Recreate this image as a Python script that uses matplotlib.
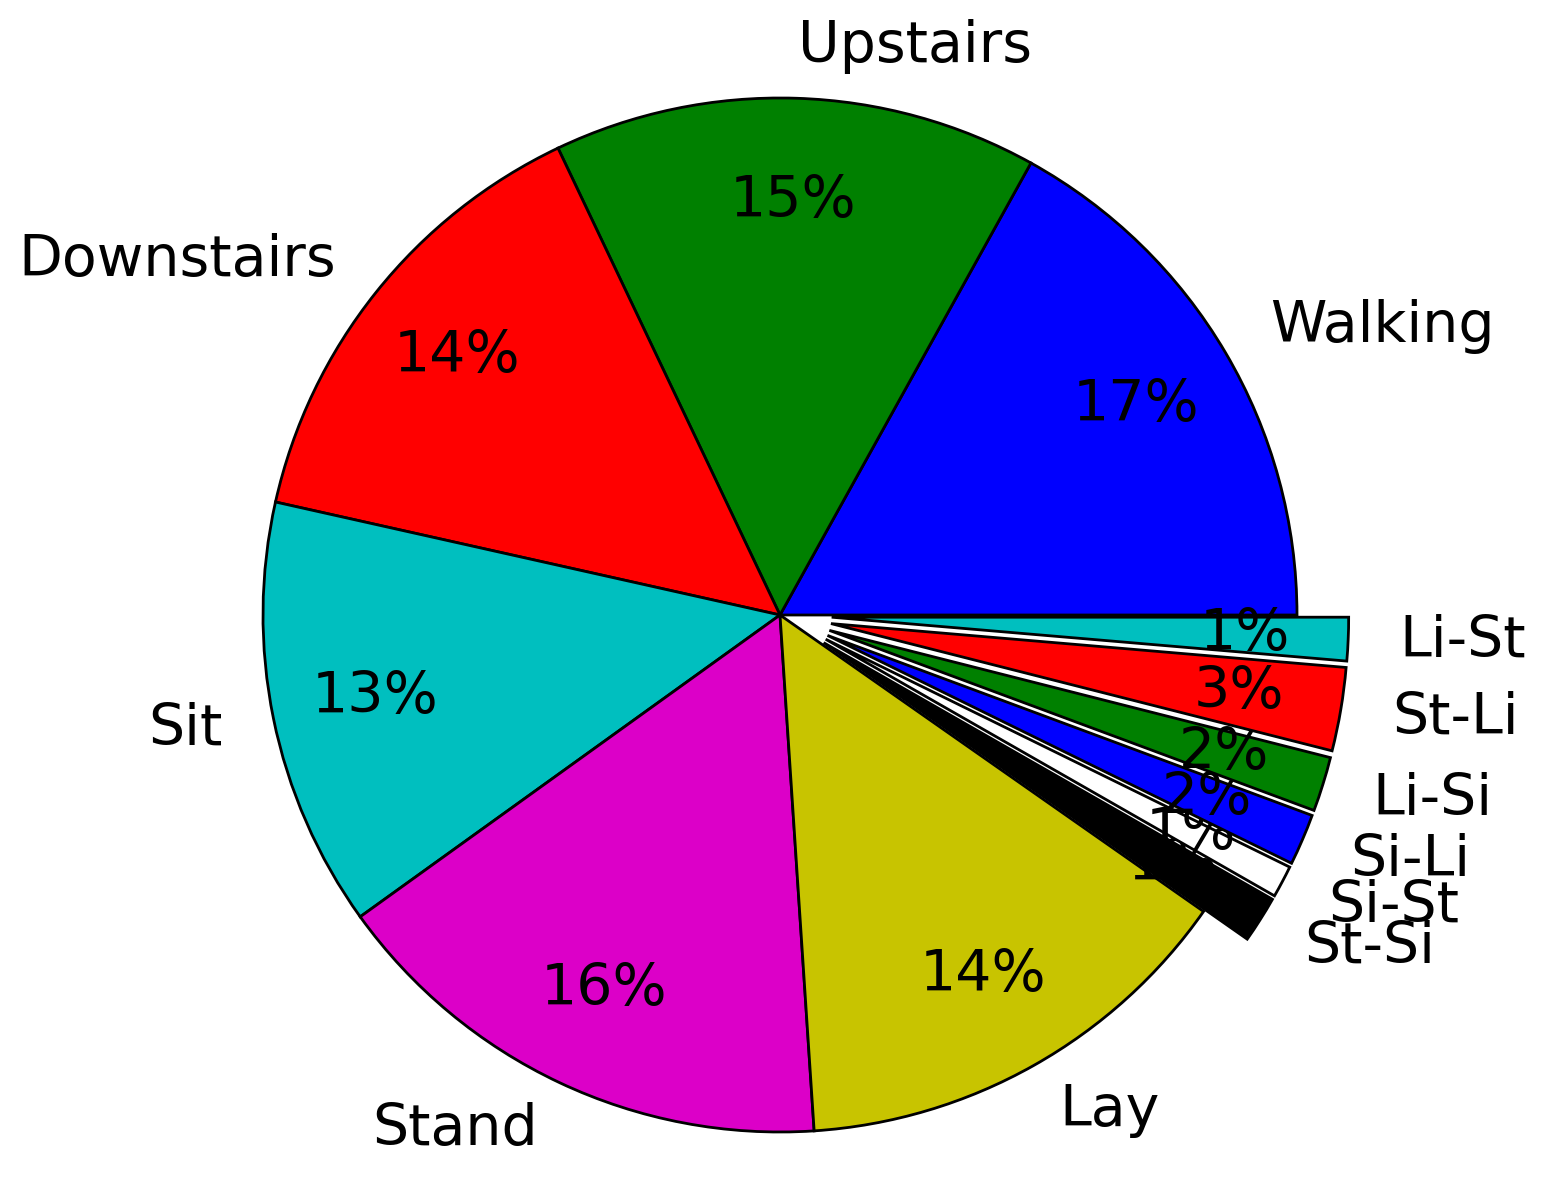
import matplotlib
matplotlib.use("Agg")
import matplotlib.pyplot as plt

# activity share (percent), counterclockwise from 0 degrees
labels = ["Walking", "Upstairs", "Downstairs", "Sit", "Stand", "Lay",
          "St-Si", "Si-St", "Si-Li", "Li-Si", "St-Li", "Li-St"]
sizes = [16.9, 15.1, 14.4, 13.4, 16.1, 14.2,
         1.45, 1.0, 1.6, 1.7, 2.6, 1.35]
explode = [0, 0, 0, 0, 0, 0, 0.1, 0.1, 0.1, 0.1, 0.1, 0.1]
colors = ["b", "g", "r", "c", "#dc00c8", "#c8c400", "k", "w", "b", "g", "r", "c"]

fig = plt.figure(figsize=(15.51, 11.82), dpi=100)
ax = fig.add_axes([0, 0, 1, 1])

wedges, texts, autotexts = ax.pie(
    sizes, labels=labels, colors=colors, explode=explode,
    autopct="%1.0f%%", pctdistance=0.8, labeldistance=1.1,
    startangle=0, counterclock=True,
    wedgeprops=dict(edgecolor="black", linewidth=2.0),
    textprops=dict(fontsize=41, family="DejaVu Sans"),
)

# later wedges are drawn over the labels of earlier ones
for i, (w, t, at) in enumerate(zip(wedges, texts, autotexts)):
    w.set_zorder(2 * i + 1)
    t.set_zorder(2 * i + 2)
    at.set_zorder(2 * i + 2)

# place the pie: centre at (780, 615) px, radius 517 px
r_px = 517.0
ax.set_xlim(-780 / r_px, (1551 - 780) / r_px)
ax.set_ylim(-(1182 - 615) / r_px, 615 / r_px)
ax.set_aspect("auto")
ax.axis("off")

fig.savefig("out.png", dpi=100, facecolor="white")
